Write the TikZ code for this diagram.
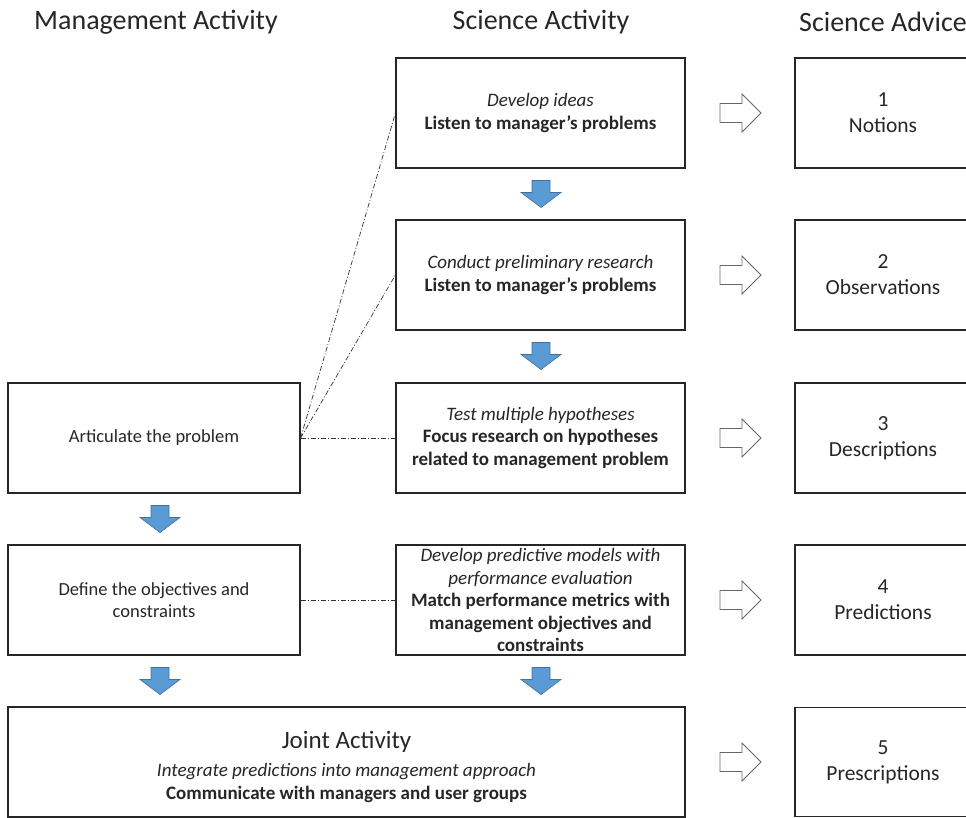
\documentclass[tikz,border=0pt]{standalone}
\usepackage{fontspec}
\setmainfont{Carlito}
\usetikzlibrary{positioning}

\definecolor{arrowblue}{HTML}{5B9BD5}
\definecolor{arrowedge}{HTML}{41719C}

\begin{document}
\begin{tikzpicture}[x=1pt,y=-1pt,
	actbox/.style={draw=black!85,line width=1.2pt,rectangle,minimum height=110pt,align=center,
		text=black!85,font=\fontsize{19}{22.5}\selectfont,inner sep=2pt},
	advbox/.style={actbox,minimum width=176pt,font=\fontsize{21.5}{26}\selectfont},
	heading/.style={text=black!85,font=\fontsize{28}{32}\selectfont},
	linkline/.style={black!80,line width=0.7pt,dash pattern=on 5pt off 2pt on 1pt off 2pt},
	bluedown/.pic={\draw[fill=arrowblue,draw=arrowedge,line width=0.6pt,line join=miter]
		(-9,-13.5) -- (9,-13.5) -- (9,-1.5) -- (20,-1.5) -- (0,13.5) -- (-20,-1.5) -- (-9,-1.5) -- cycle;},
	whiteright/.pic={\draw[fill=white,draw=black!60,line width=0.8pt,line join=miter]
		(-20,-9.5) -- (2,-9.5) -- (2,-19) -- (21,0) -- (2,19) -- (2,9.5) -- (-20,9.5) -- cycle;}
]
	\useasboundingbox (0,0) rectangle (966,818);
	\clip (0,0) rectangle (966,818);

	\node[heading] at (156,22) (hmg) {Management Activity};
	\node[heading] at (541,22) (hsci) {Science Activity};
	\node[heading] at (883,22) (hadv) {Science Advice};

	\node[actbox,minimum width=289pt] at (540.5,113) (sci1) {\textit{Develop ideas}\\\textbf{Listen to manager's problems}};
	\node[actbox,minimum width=289pt] at (540.5,275) (sci2) {\textit{Conduct preliminary research}\\\textbf{Listen to manager's problems}};
	\node[actbox,minimum width=289pt] at (540.5,438) (sci3) {\textit{Test multiple hypotheses}\\\textbf{Focus research on hypotheses}\\\textbf{related to management problem}};
	\node[actbox,minimum width=289pt] at (540.5,600) (sci4) {\textit{Develop predictive models with}\\\textit{performance evaluation}\\\textbf{Match performance metrics with}\\\textbf{management objectives and}\\\textbf{constraints}};

	\node[actbox,minimum width=292pt,font=\fontsize{18.5}{22.5}\selectfont] at (154,438) (mg1) {Articulate the problem};
	\node[actbox,minimum width=292pt,font=\fontsize{18.5}{22.5}\selectfont] at (154,600) (mg2) {Define the objectives and\\constraints};

	\draw[draw=black!85,line width=1.2pt] (8,707) rectangle (685,817);
	\node[align=center,text=black!85,font=\fontsize{19}{23}\selectfont] at (346.5,767) (joint) {{\fontsize{25}{28}\selectfont Joint Activity}\\[5pt]\textit{Integrate predictions into management approach}\\\textbf{Communicate with managers and user groups}};

	\node[advbox] at (883,113) (adv1) {1\\Notions};
	\node[advbox] at (883,275) (adv2) {2\\Observations};
	\node[advbox] at (883,438) (adv3) {3\\Descriptions};
	\node[advbox] at (883,600) (adv4) {4\\Predictions};
	\node[advbox,minimum height=109pt] at (883,762) (adv5) {5\\Prescriptions};

	\draw[linkline] (mg1.east) -- (sci1.west);
	\draw[linkline] (mg1.east) -- (sci2.west);
	\draw[linkline] (mg1.east) -- (sci3.west);
	\draw[linkline] (mg2.east) -- (sci4.west);

	\pic at (541,194) {bluedown};
	\pic at (541,356) {bluedown};
	\pic at (160,519) {bluedown};
	\pic at (160,681) {bluedown};
	\pic at (541,681) {bluedown};

	\foreach \y in {113,275,438,600,762}
		\pic at (740,\y) {whiteright};
\end{tikzpicture}
\end{document}
